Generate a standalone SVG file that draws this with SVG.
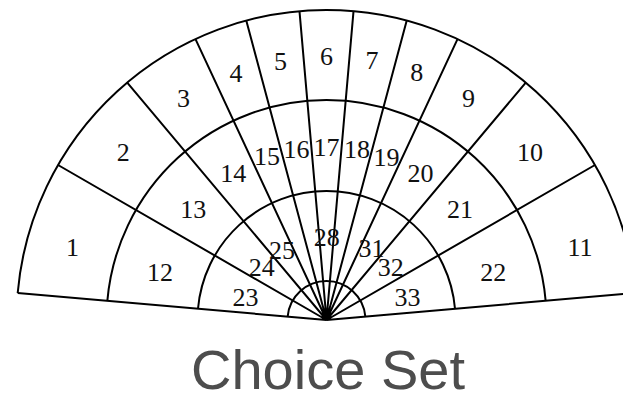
<svg xmlns="http://www.w3.org/2000/svg" width="623" height="394" viewBox="0 0 623 394">
<style>
.ln{fill:none;stroke:#000;stroke-width:2;stroke-linejoin:round}
.lb{font-family:"Liberation Serif","Times New Roman",serif;font-size:26px;fill:#111;text-anchor:middle}
.ttl{font-family:"Liberation Sans",Arial,sans-serif;font-size:56px;fill:#4d4d4d;text-anchor:middle}
</style>
<rect width="623" height="394" fill="#fff"/>
<g id="connectors" class="ln">
<path d="M17.68,292.98 A310,310 0 0 1 635.32,292.98"/>
<path d="M107.34,300.82 A220,220 0 0 1 545.66,300.82"/>
<path d="M197.99,308.76 A129,129 0 0 1 455.01,308.76"/>
<path d="M287.65,316.60 A39,39 0 0 1 365.35,316.60"/>
<path d="M326.5,320 L17.68,292.98 M326.5,320 L635.32,292.98 M326.5,320 L58.03,165 M326.5,320 L127.23,82.53 M326.5,320 L195.49,39.05 M326.5,320 L246.27,20.57 M326.5,320 L299.48,11.18 M326.5,320 L353.52,11.18 M326.5,320 L406.73,20.57 M326.5,320 L457.51,39.05 M326.5,320 L525.77,82.53 M326.5,320 L594.97,165"/>
</g>
<g id="n1" class="lb"><text x="72.5" y="255.5">1</text></g>
<g id="n2" class="lb"><text x="123.3" y="160.5">2</text></g>
<g id="n3" class="lb"><text x="183.5" y="106.5">3</text></g>
<g id="n4" class="lb"><text x="236" y="81.5">4</text></g>
<g id="n5" class="lb"><text x="280.5" y="69.5">5</text></g>
<g id="n6" class="lb"><text x="326.5" y="64.5">6</text></g>
<g id="n7" class="lb"><text x="372" y="68.5">7</text></g>
<g id="n8" class="lb"><text x="416.7" y="80.5">8</text></g>
<g id="n9" class="lb"><text x="468.5" y="106.5">9</text></g>
<g id="n10" class="lb"><text x="530" y="160.5">10</text></g>
<g id="n11" class="lb"><text x="580" y="255.5">11</text></g>
<g id="n12" class="lb"><text x="160" y="280.5">12</text></g>
<g id="n13" class="lb"><text x="193.3" y="218">13</text></g>
<g id="n14" class="lb"><text x="233.3" y="182">14</text></g>
<g id="n15" class="lb"><text x="267" y="165">15</text></g>
<g id="n16" class="lb"><text x="296.5" y="158">16</text></g>
<g id="n17" class="lb"><text x="326.5" y="155.5">17</text></g>
<g id="n18" class="lb"><text x="357" y="157.5">18</text></g>
<g id="n19" class="lb"><text x="386.5" y="165.5">19</text></g>
<g id="n20" class="lb"><text x="420.5" y="182">20</text></g>
<g id="n21" class="lb"><text x="460" y="218">21</text></g>
<g id="n22" class="lb"><text x="493.3" y="280.5">22</text></g>
<g id="n23" class="lb"><text x="245.5" y="305.5">23</text></g>
<g id="n24" class="lb"><text x="261.7" y="275.5">24</text></g>
<g id="n25" class="lb"><text x="282" y="258.8">25</text></g>
<g id="n28" class="lb"><text x="326.7" y="245.5">28</text></g>
<g id="n31" class="lb"><text x="371.5" y="257">31</text></g>
<g id="n32" class="lb"><text x="390.7" y="275.5">32</text></g>
<g id="n33" class="lb"><text x="407.5" y="305.5">33</text></g>
<g id="title"><text class="ttl" x="328" y="389">Choice Set</text></g>
</svg>
